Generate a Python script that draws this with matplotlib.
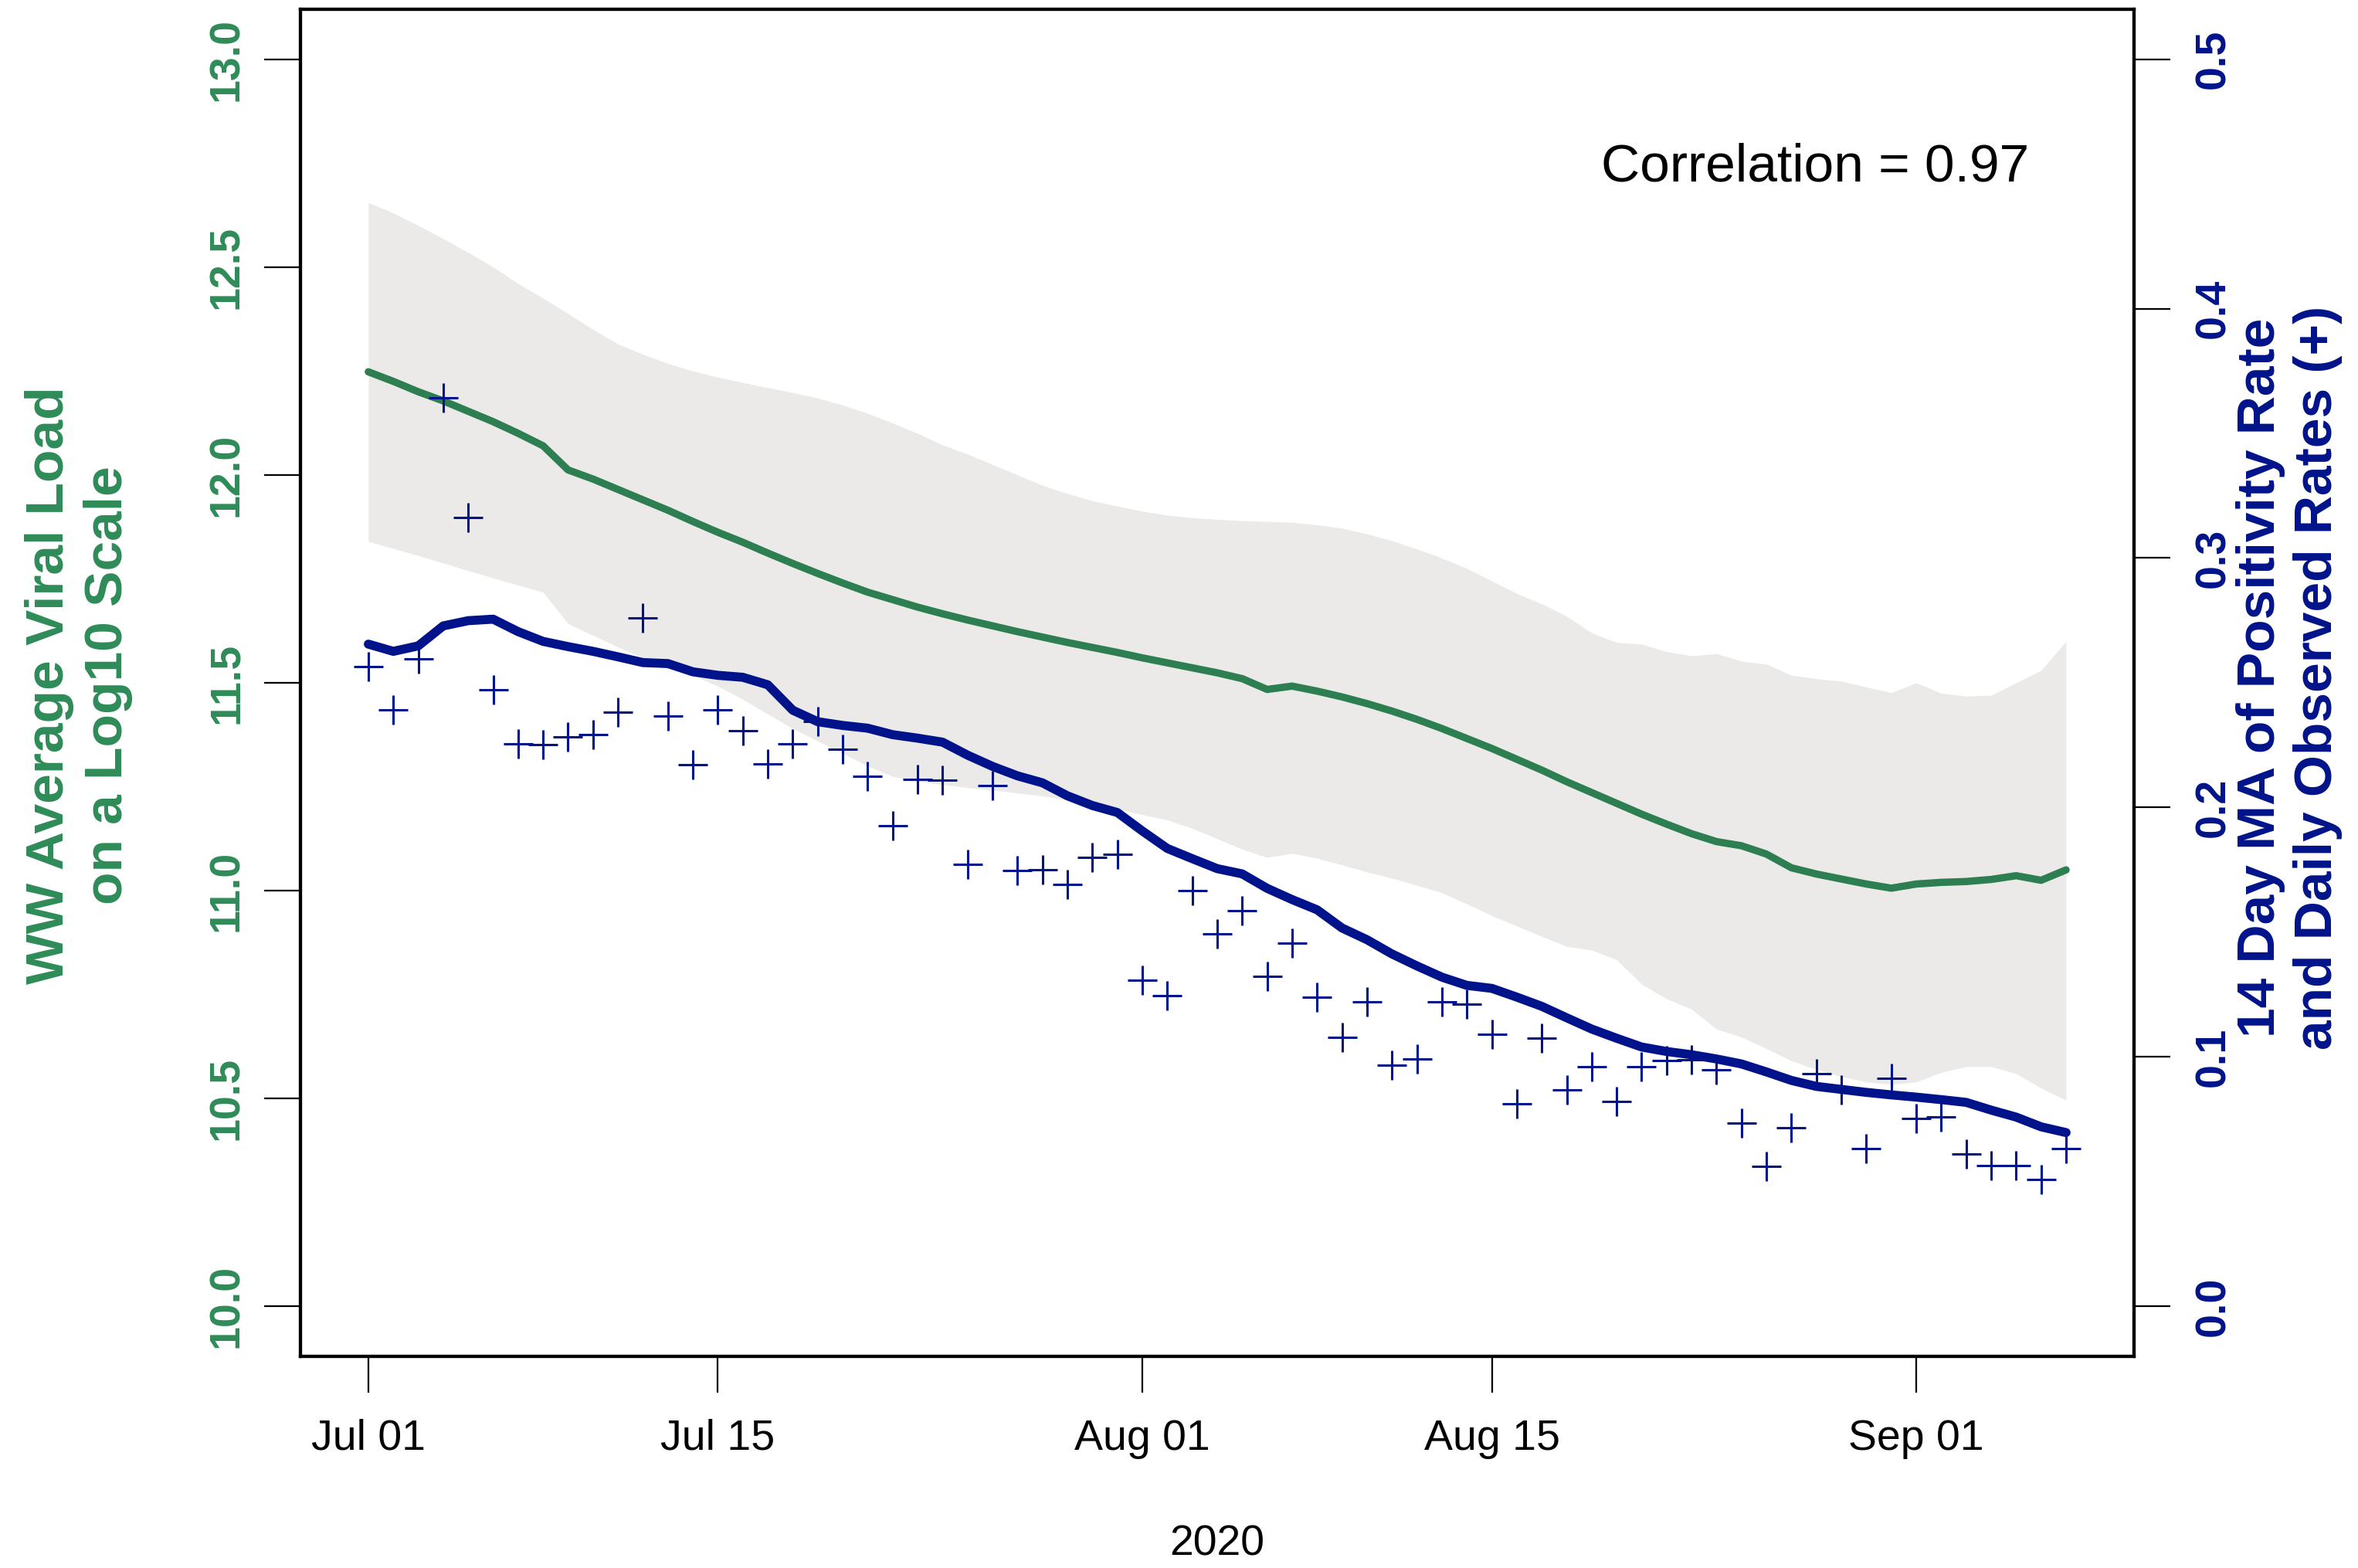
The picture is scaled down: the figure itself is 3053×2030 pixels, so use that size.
import numpy as np
import pandas as pd
import matplotlib
matplotlib.use('Agg')
import matplotlib.pyplot as plt
import matplotlib.dates as mdates

plt.rcParams['font.family'] = ['Liberation Sans', 'DejaVu Sans']

# daily dates, Jul 01 - Sep 07 2020
dates = pd.date_range('2020-07-01', '2020-09-07', freq='D')

# wastewater viral load (log10), fitted line
ww_fit = [12.248, 12.225, 12.200, 12.178, 12.153, 12.128, 12.100, 12.070, 12.012, 11.990,
          11.965, 11.940, 11.915, 11.888, 11.862, 11.838, 11.812, 11.787, 11.763, 11.740,
          11.718, 11.700, 11.682, 11.666, 11.651, 11.637, 11.623, 11.610, 11.597, 11.585,
          11.573, 11.560, 11.548, 11.536, 11.524, 11.510, 11.484, 11.492, 11.480, 11.466,
          11.450, 11.432, 11.412, 11.390, 11.366, 11.342, 11.316, 11.290, 11.262, 11.236,
          11.210, 11.184, 11.160, 11.137, 11.118, 11.108, 11.088, 11.055, 11.040, 11.028,
          11.016, 11.006, 11.016, 11.020, 11.022, 11.027, 11.036, 11.025, 11.050]

# band around the viral load
ww_upper = [12.655, 12.630, 12.600, 12.568, 12.535, 12.500, 12.460, 12.425, 12.388, 12.350,
            12.315, 12.290, 12.268, 12.250, 12.235, 12.222, 12.210, 12.198, 12.185, 12.168,
            12.148, 12.125, 12.100, 12.072, 12.050, 12.025, 12.000, 11.975, 11.955, 11.938,
            11.925, 11.913, 11.903, 11.897, 11.893, 11.890, 11.888, 11.886, 11.880, 11.872,
            11.858, 11.842, 11.822, 11.800, 11.775, 11.745, 11.715, 11.690, 11.660, 11.620,
            11.597, 11.593, 11.575, 11.565, 11.570, 11.552, 11.545, 11.518, 11.510, 11.504,
            11.490, 11.476, 11.500, 11.475, 11.468, 11.470, 11.500, 11.530, 11.600]
ww_lower = [11.840, 11.823, 11.806, 11.788, 11.770, 11.752, 11.735, 11.718, 11.642, 11.614,
            11.586, 11.560, 11.536, 11.518, 11.492, 11.460, 11.425, 11.390, 11.360, 11.330,
            11.300, 11.275, 11.263, 11.255, 11.248, 11.242, 11.235, 11.228, 11.218, 11.207,
            11.196, 11.183, 11.170, 11.150, 11.125, 11.100, 11.080, 11.090, 11.078, 11.062,
            11.045, 11.030, 11.013, 10.995, 10.968, 10.940, 10.915, 10.890, 10.866, 10.857,
            10.834, 10.775, 10.740, 10.715, 10.667, 10.648, 10.620, 10.591, 10.570, 10.553,
            10.540, 10.534, 10.540, 10.563, 10.577, 10.577, 10.560, 10.525, 10.496]

# 14 day moving average of positivity rate
pos_ma = [0.2655, 0.2626, 0.2648, 0.2728, 0.2749, 0.2755, 0.2705, 0.2666, 0.2645, 0.2626,
          0.2604, 0.2581, 0.2577, 0.2544, 0.2530, 0.2522, 0.2492, 0.2390, 0.2344, 0.2329,
          0.2318, 0.2292, 0.2278, 0.2262, 0.2210, 0.2165, 0.2127, 0.2099, 0.2047, 0.2008,
          0.1980, 0.1906, 0.1836, 0.1795, 0.1755, 0.1734, 0.1676, 0.1631, 0.1590, 0.1517,
          0.1470, 0.1413, 0.1365, 0.1320, 0.1287, 0.1275, 0.1240, 0.1203, 0.1157, 0.1112,
          0.1075, 0.1040, 0.1022, 0.1009, 0.0992, 0.0972, 0.0940, 0.0906, 0.0882, 0.0870,
          0.0858, 0.0848, 0.0839, 0.0829, 0.0818, 0.0787, 0.0759, 0.0720, 0.0697]

# daily observed positivity rates (+)
pos_daily = [0.2566, 0.2391, 0.2596, 0.3642, 0.3164, 0.2473, 0.2255, 0.2252, 0.2284, 0.2292,
             0.2381, 0.2759, 0.2366, 0.2173, 0.2393, 0.2309, 0.2176, 0.2255, 0.2344, 0.2235,
             0.2125, 0.1928, 0.2112, 0.2110, 0.1772, 0.2088, 0.1747, 0.1751, 0.1692, 0.1799,
             0.1811, 0.1309, 0.1245, 0.1668, 0.1495, 0.1586, 0.1324, 0.1457, 0.1239, 0.1079,
             0.1220, 0.0968, 0.0993, 0.1220, 0.1213, 0.1092, 0.0811, 0.1077, 0.0869, 0.0961,
             0.0823, 0.0961, 0.0985, 0.0990, 0.0948, 0.0736, 0.0561, 0.0716, 0.0934, 0.0869,
             0.0634, 0.0914, 0.0752, 0.0760, 0.0611, 0.0565, 0.0565, 0.0510, 0.0634]

xtick_dates = ['2020-07-01', '2020-07-15', '2020-08-01', '2020-08-15', '2020-09-01']
xtick_labels = ['Jul 01', 'Jul 15', 'Aug 01', 'Aug 15', 'Sep 01']
left_ticks = [10.0, 10.5, 11.0, 11.5, 12.0, 12.5, 13.0]
right_ticks = [0.0, 0.1, 0.2, 0.3, 0.4, 0.5]

green = '#2E8B57'
green_line = '#2D7F51'
navy = '#00138A'
band_grey = '#EBEAE9'

fig = plt.figure(figsize=(15.265, 10.15), dpi=200)
ax = fig.add_axes([0.1274, 0.135, 0.7776, 0.8591])

ax.fill_between(dates, ww_lower, ww_upper, color=band_grey, lw=0, zorder=1)
ax.plot(dates, ww_fit, color=green_line, lw=3.4, zorder=2, solid_capstyle='round')

# R style axis ranges (4% padding)
x0 = pd.Timestamp('2020-07-01')
ax.set_xlim(x0 - pd.Timedelta(days=2.72), x0 + pd.Timedelta(days=70.72))
ax.set_ylim(9.88, 13.12)

ax2 = ax.twinx()
ax2.plot(dates, pos_ma, color=navy, lw=4.2, zorder=3, solid_capstyle='round')
ax2.plot(dates, pos_daily, ls='none', marker='+', ms=14, mew=1.1, color=navy, zorder=4)
ax2.set_ylim(-0.02, 0.52)

ax.set_xticks(pd.to_datetime(xtick_dates))
ax.set_xticklabels(xtick_labels, fontsize=20)
ax.tick_params(axis='x', length=17, width=0.8, pad=12, direction='out')

ax.set_yticks(left_ticks)
ax.set_yticklabels(['%.1f' % t for t in left_ticks], fontsize=20, fontweight='bold',
                   color=green, rotation=90, va='center')
ax.tick_params(axis='y', length=17, width=0.8, pad=8, direction='out')

ax2.set_yticks(right_ticks)
ax2.set_yticklabels(['%.1f' % t for t in right_ticks], fontsize=20, fontweight='bold',
                    color=navy, rotation=90, va='center')
ax2.tick_params(axis='y', length=17, width=0.8, pad=11, direction='out')

for a in (ax, ax2):
    for s in a.spines.values():
        s.set_linewidth(1.5)
        s.set_color('black')

ax.text(0.826, 0.883, 'Correlation = 0.97', transform=ax.transAxes, fontsize=25,
        ha='center', va='center', color='black')

fig.text(102 / 3053, 1 - 887 / 2030, 'WW Average Viral Load\non a Log10 Scale', rotation=90,
         ha='center', va='center', fontsize=25, fontweight='bold', color=green,
         multialignment='center', linespacing=1.25)
fig.text(2964 / 3053, 1 - 877 / 2030, '14 Day MA of Positivity Rate\nand Daily Observed Rates (+)',
         rotation=90, ha='center', va='center', fontsize=25, fontweight='bold', color=navy,
         multialignment='center', linespacing=1.2)
fig.text(1576 / 3053, 1 - 2000 / 2030, '2020', ha='center', va='center', fontsize=20)

fig.savefig('out.png', dpi=200)
